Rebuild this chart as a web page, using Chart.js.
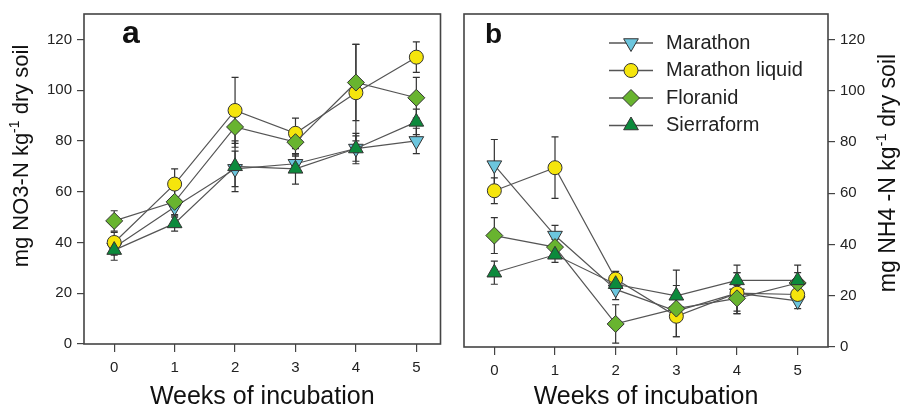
<!DOCTYPE html>
<html>
<head>
<meta charset="utf-8">
<script src="https://cdn.jsdelivr.net/npm/chart.js@4.4.1/dist/chart.umd.min.js"></script>
<style>
  body { margin: 0; background: #fff; }
  #wrap { position: relative; width: 902px; height: 412px; }
  .panel { position: absolute; top: 0; height: 412px; }
  #pa { left: 0; width: 450px; }
  #pb { left: 450px; width: 452px; }
</style>
</head>
<body>
<div id="wrap">
  <div class="panel" id="pa"><canvas id="chartA" width="450" height="412"></canvas></div>
  <div class="panel" id="pb"><canvas id="chartB" width="452" height="412"></canvas></div>
</div>
<script>
// ---- data ----
const weeks = [0, 1, 2, 3, 4, 5];
const yTicks = [0, 20, 40, 60, 80, 100, 120];
const seriesNames = ['Marathon', 'Marathon liquid', 'Floranid', 'Sierraform'];

// panel a: NO3-N
const no3Marathon       = [38, 54, 69, 71, 77, 80];
const no3MarathonLiquid = [40, 63, 92, 83, 99, 113];
const no3Floranid       = [48.5, 56, 85.5, 79.5, 103, 97];
const no3Sierraform     = [37, 47.5, 70, 69, 77, 87.5];
const no3MarathonErr       = [3, 4, 7, 3, 5, 5];
const no3MarathonLiquidErr = [4, 6, 13, 6, 19, 6];
const no3FloranidErr       = [4, 5, 8, 5, 15, 8];
const no3SierraformErr     = [4, 3, 10, 6, 6, 5];

// panel b: NH4-N
const nh4Marathon       = [71, 43.5, 22.5, 14, 21, 18];
const nh4MarathonLiquid = [61, 70, 26.5, 12, 21, 20.5];
const nh4Floranid       = [43.5, 39, 9, 15, 19, 25];
const nh4Sierraform     = [29, 36, 24.5, 20, 26, 26];
const nh4MarathonErr       = [10, 4, 4, 10, 8, 3];
const nh4MarathonLiquidErr = [5, 12, 3, 8, 8, 3];
const nh4FloranidErr       = [7, 3, 7.5, 4, 5, 4];
const nh4SierraformErr     = [4.5, 3, 3, 10, 6, 6];

// ---- styling ----
const font = "'Liberation Sans', Arial, sans-serif";
const markers = [
  { color: '#6cc6de', pointStyle: 'triangle', rotation: 180, radius: 8.5 },
  { color: '#f5e50c', pointStyle: 'circle',   rotation: 0,   radius: 7 },
  { color: '#68b42f', pointStyle: 'rectRot',  rotation: 0,   radius: 8.5 },
  { color: '#0c8a3c', pointStyle: 'triangle', rotation: 0,   radius: 8.5 }
];

function buildDatasets(series) {
  return series.map((vals, i) => ({
    label: seriesNames[i],
    data: weeks.map((w, j) => ({ x: w, y: vals[j] })),
    order: series.length - i, // Sierraform ends up on top
    borderColor: '#555',
    borderWidth: 1.2,
    pointStyle: markers[i].pointStyle,
    pointRotation: markers[i].rotation,
    pointRadius: markers[i].radius,
    pointBackgroundColor: markers[i].color,
    pointBorderColor: '#333',
    pointBorderWidth: 1,
    tension: 0,
    fill: false
  }));
}

// error bars drawn under the lines and markers
const errorBars = {
  id: 'errorBars',
  beforeDatasetsDraw(chart, args, opts) {
    const ctx = chart.ctx, ys = chart.scales.y;
    ctx.save();
    ctx.strokeStyle = '#333';
    ctx.lineWidth = 1.2;
    opts.errors.forEach((errs, i) => {
      const meta = chart.getDatasetMeta(i);
      meta.data.forEach((pt, j) => {
        const v = chart.data.datasets[i].data[j].y;
        const top = ys.getPixelForValue(v + errs[j]);
        const bot = ys.getPixelForValue(v - errs[j]);
        ctx.beginPath();
        ctx.moveTo(pt.x, top); ctx.lineTo(pt.x, bot);
        ctx.moveTo(pt.x - 3.5, top); ctx.lineTo(pt.x + 3.5, top);
        ctx.moveTo(pt.x - 3.5, bot); ctx.lineTo(pt.x + 3.5, bot);
        ctx.stroke();
      });
    });
    ctx.restore();
  }
};

function drawYTitle(ctx, parts, cx, cy, size) {
  const big = `${size}px ${font}`, small = `${Math.round(size * 0.64)}px ${font}`;
  let total = 0;
  parts.forEach(p => { ctx.font = p.sup ? small : big; total += ctx.measureText(p.t).width; });
  ctx.save();
  ctx.translate(cx, cy);
  ctx.rotate(-Math.PI / 2);
  ctx.fillStyle = '#111';
  ctx.textBaseline = 'middle';
  let x = -total / 2;
  parts.forEach(p => {
    ctx.font = p.sup ? small : big;
    ctx.fillText(p.t, x, p.sup ? -size * 0.32 : 0);
    x += ctx.measureText(p.t).width;
  });
  ctx.restore();
}

// frame, panel letter, y title, legend
const decor = {
  id: 'decor',
  afterDraw(chart, args, opts) {
    const { ctx, chartArea: a } = chart;
    ctx.save();
    ctx.strokeStyle = '#444';
    ctx.lineWidth = 1.6;
    ctx.strokeRect(a.left, a.top, a.right - a.left, a.bottom - a.top);

    ctx.fillStyle = '#111';
    ctx.textBaseline = 'alphabetic';
    ctx.font = `bold ${opts.letterSize}px ${font}`;
    ctx.fillText(opts.letter, opts.letterX, opts.letterY);

    drawYTitle(ctx, opts.yTitle, opts.titleX, opts.titleY, opts.titleSize);

    if (opts.legend) {
      const L = opts.legend;
      chart.data.datasets.forEach((ds, i) => {
        const y = L.y0 + i * L.dy;
        ctx.strokeStyle = '#555';
        ctx.lineWidth = 1.5;
        ctx.beginPath(); ctx.moveTo(L.x1, y); ctx.lineTo(L.x2, y); ctx.stroke();
        ctx.fillStyle = markers[i].color;
        ctx.strokeStyle = '#333';
        ctx.lineWidth = 1;
        Chart.helpers.drawPoint(ctx, {
          pointStyle: markers[i].pointStyle, rotation: markers[i].rotation,
          radius: markers[i].radius, borderWidth: 1
        }, (L.x1 + L.x2) / 2, y);
        ctx.fillStyle = '#222';
        ctx.font = `20px ${font}`;
        ctx.textBaseline = 'middle';
        ctx.fillText(ds.label, L.textX, y);
      });
    }
    ctx.restore();
  }
};

function makeChart(id, series, errors, side, xMax, pad, xHeight, yWidth, decorOpts) {
  return new Chart(document.getElementById(id), {
    type: 'line',
    data: { datasets: buildDatasets(series) },
    plugins: [errorBars, decor],
    options: {
      responsive: false,
      animation: false,
      layout: { padding: pad },
      plugins: {
        legend: { display: false },
        tooltip: { enabled: false },
        errorBars: { errors: errors },
        decor: decorOpts
      },
      scales: {
        x: {
          type: 'linear', min: -0.5, max: xMax,
          afterBuildTicks: s => { s.ticks = weeks.map(v => ({ value: v })); },
          afterFit: s => { s.height = xHeight; },
          grid: { drawOnChartArea: false, tickLength: 8, color: '#444', lineWidth: 1.2 },
          border: { display: false },
          ticks: { font: { family: font, size: 15 }, color: '#222', padding: 7, maxRotation: 0 },
          title: { display: true, text: 'Weeks of incubation', font: { family: font, size: 25 },
                   color: '#111', padding: { top: 0, bottom: 0 } }
        },
        y: {
          position: side, min: 0, max: 130,
          afterBuildTicks: s => { s.ticks = yTicks.map(v => ({ value: v })); },
          afterFit: s => { s.width = yWidth; },
          grid: { drawOnChartArea: false, tickLength: 7, color: '#444', lineWidth: 1.2 },
          border: { display: false },
          ticks: { font: { family: font, size: 15 }, color: '#222', padding: 5 }
        }
      }
    }
  });
}

makeChart('chartA',
  [no3Marathon, no3MarathonLiquid, no3Floranid, no3Sierraform],
  [no3MarathonErr, no3MarathonLiquidErr, no3FloranidErr, no3SierraformErr],
  'left', 5.4, { left: 0, right: 6, top: 7, bottom: 0 }, 68, 84,
  { letter: 'a', letterSize: 32, letterX: 122, letterY: 43,
    yTitle: [{ t: 'mg NO3-N kg' }, { t: '-1', sup: true }, { t: ' dry soil' }],
    titleX: 22, titleY: 156, titleSize: 22 });

makeChart('chartB',
  [nh4Marathon, nh4MarathonLiquid, nh4Floranid, nh4Sierraform],
  [nh4MarathonErr, nh4MarathonLiquidErr, nh4FloranidErr, nh4SierraformErr],
  'right', 5.5, { left: 14, right: 0, top: 9, bottom: 0 }, 65, 74,
  { letter: 'b', letterSize: 28, letterX: 35, letterY: 43,
    yTitle: [{ t: 'mg NH4 -N kg' }, { t: '-1', sup: true }, { t: ' dry soil' }],
    titleX: 439, titleY: 173, titleSize: 23,
    legend: { x1: 159, x2: 203, textX: 216, y0: 43, dy: 27.5 } });
</script>
</body>
</html>
